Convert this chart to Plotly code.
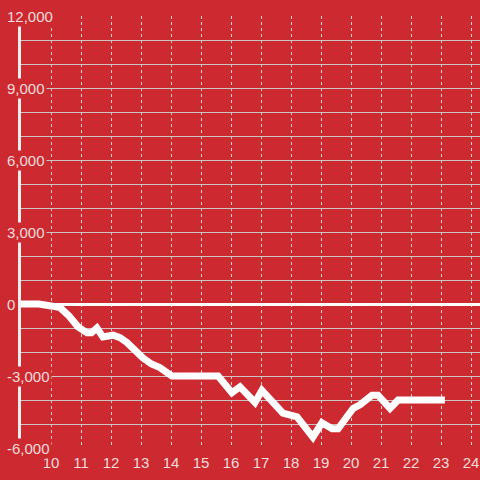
import plotly.graph_objects as go

x_vals = [9.0, 9.6, 10.0, 10.3, 10.6, 10.9, 11.2, 11.35, 11.53, 11.73, 12.07, 12.3, 12.53, 12.8, 13.07, 13.35, 13.63, 14.03,
          15.57, 16.03, 16.3, 16.8, 17.03, 17.73, 18.2, 18.73, 19.03, 19.37, 19.57, 20.07, 20.3, 20.7, 20.9, 21.3, 21.57, 23.13]
y_vals = [0, 0, -80, -150, -500, -950, -1200, -1200, -1000, -1375, -1300, -1400, -1600, -1950, -2250, -2500, -2650, -3000,
          -3000, -3700, -3450, -4100, -3600, -4550, -4700, -5550, -4950, -5200, -5200, -4350, -4200, -3800, -3800, -4350, -4000, -4000]

x_ticks = list(range(10, 25))
y_label_vals = [12000, 9000, 6000, 3000, 0, -3000, -6000]
y_label_text = ["12,000", "9,000", "6,000", "3,000", "0", "-3,000", "-6,000"]

bg = "#cc2a30"
label_color = "#f3dcdc"

fig = go.Figure()
fig.add_trace(go.Scatter(x=x_vals, y=y_vals, mode="lines",
                         line=dict(color="white", width=7), hoverinfo="skip"))

for v, t in zip(y_label_vals, y_label_text):
    fig.add_annotation(x=0, y=v, xref="paper", yref="y", text=t, showarrow=False,
                       xanchor="left", yanchor="middle", xshift=-16,
                       bgcolor=bg, borderpad=1,
                       font=dict(family="Liberation Sans, Arial", size=15, color=label_color))

fig.update_layout(
    width=480, height=480,
    margin=dict(l=21, r=0, t=16, b=32, autoexpand=False),
    paper_bgcolor=bg, plot_bgcolor=bg,
    showlegend=False,
    xaxis=dict(range=[9, 24.3], tickvals=x_ticks, ticktext=[str(v) for v in x_ticks],
               showgrid=True, gridcolor="#e6d0d0", griddash="dot", gridwidth=1,
               zeroline=False, showline=False, ticks="", automargin=False,
               ticklabelstandoff=4,
               tickfont=dict(family="Liberation Sans, Arial", size=15, color=label_color)),
    yaxis=dict(range=[-6000, 12000], dtick=1000, showticklabels=False,
               showgrid=True, gridcolor="#cfc4c4", gridwidth=1, automargin=False,
               zeroline=True, zerolinecolor="white", zerolinewidth=3,
               showline=True, linecolor="#f2eeee", linewidth=3, ticks=""),
)

fig.write_html("out.html",
               config={"displayModeBar": False},
               post_script="document.body.style.margin='0';document.body.style.overflow='hidden';"
                           "document.body.style.background='" + bg + "';")
